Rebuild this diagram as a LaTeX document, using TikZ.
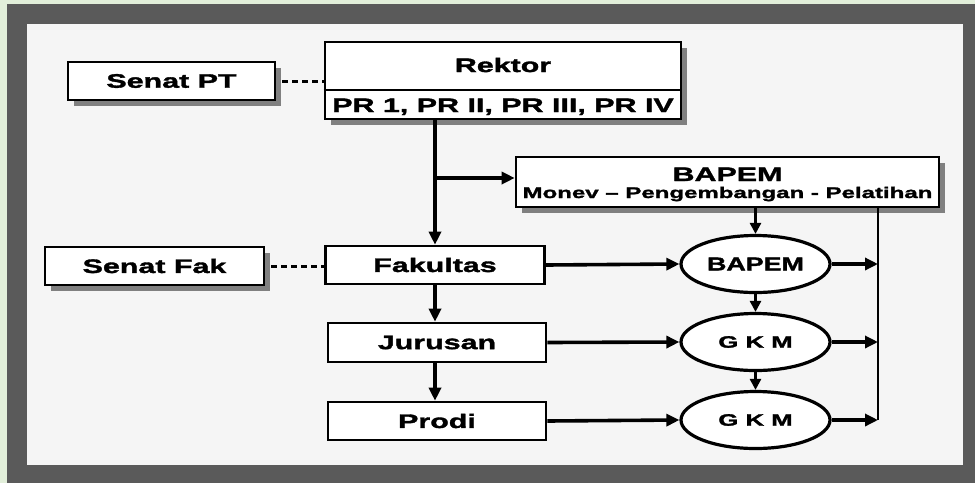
\documentclass[tikz,border=0pt]{standalone}
\usepackage{fontspec}
\setmainfont{Liberation Sans}[FakeStretch=1.56, BoldFeatures={FakeBold=1.8}]
\newfontfamily\ellfont{Liberation Sans}[FakeStretch=1.45, BoldFeatures={FakeBold=1.8}]
\usetikzlibrary{arrows.meta,shapes.geometric,shadows}
\definecolor{bggreen}{HTML}{E2EFDA}
\definecolor{frame}{HTML}{5A5A5A}
\definecolor{paper}{HTML}{F5F5F5}
\begin{document}
\begin{tikzpicture}[x=1pt,y=-1pt,
  box/.style={draw=black, line width=2.6pt, fill=white, inner sep=0pt,
    font=\bfseries\fontsize{19.5}{20}\selectfont},
  shad/.style={drop shadow={shadow xshift=6pt, shadow yshift=-6pt, fill=black!50, opacity=1}},
  lbl/.style={inner sep=0pt, anchor=base, font=\bfseries\fontsize{19.5}{20}\selectfont},
  ell/.style={ellipse, draw=black, line width=3.2pt, fill=white, inner sep=0pt,
    minimum width=149pt, minimum height=57pt},
  arr/.style={line width=3.6pt, -{Triangle[length=13pt,width=12pt]}},
  sarr/.style={line width=2.6pt, -{Triangle[length=11pt,width=11pt]}},
  plain/.style={line width=2.6pt},
  dsh/.style={line width=3pt, dash pattern=on 6pt off 4pt}
]
\useasboundingbox (0,0) rectangle (975,483);
\fill[bggreen] (0,0) rectangle (975,483);
\fill[frame] (7,4) rectangle (975,483);
\fill[paper] (27,24) rectangle (963,465);

% boxes
\node[box, shad, minimum width=207pt, minimum height=38pt] (senatpt) at (171.5,81) {Senat PT};
\node[box, shad, minimum width=356pt, minimum height=77pt] (rektor) at (503,80.5) {};
\draw[line width=2.6pt] (rektor.west |- 0,90) -- (rektor.east |- 0,90);
\node[lbl] (rektorT) at (503,72) {Rektor};
\node[lbl] (prT) at (503,112) {PR 1, PR II, PR III, PR IV};

\node[box, shad, minimum width=423pt, minimum height=50pt] (bapem) at (727.5,182) {};
\node[lbl] (bapemT) at (727.5,181) {BAPEM};
\node[lbl, font=\bfseries\fontsize{15.4}{16}\selectfont] (monevT) at (727.5,198) {Monev -- Pengembangan - Pelatihan};

\node[box, shad, minimum width=219pt, minimum height=38pt] (senatfak) at (154.5,266) {Senat Fak};
\node[box, minimum width=219pt, minimum height=38pt] (fak) at (435,265) {Fakultas};
\node[box, minimum width=218pt, minimum height=39pt] (jur) at (437,342.5) {Jurusan};
\node[box, minimum width=218pt, minimum height=38pt] (prodi) at (437,421) {Prodi};

% ellipses
\node[ell, font=\ellfont\bfseries\fontsize{18.5}{19}\selectfont] (e1) at (755.5,264) {BAPEM};
\node[ell, font=\bfseries\fontsize{16.5}{17}\selectfont] (e2) at (755.5,342) {G K M};
\node[ell, font=\bfseries\fontsize{16.5}{17}\selectfont] (e3) at (755.5,420) {G K M};

% dashed links
\draw[dsh] (senatpt.east) ++(6,0) -- (rektor.west |- senatpt.east);
\draw[dsh] (senatfak.east) ++(6,0) -- (fak.west |- senatfak.east);

% main vertical chain
\draw[arr] (fak.north |- rektor.south) -- (fak.north);
\draw[arr] (fak.north |- 0,178) -- (bapem.west |- 0,178);
\draw[arr] (fak.south) -- (fak.south |- jur.north);
\draw[arr] (fak.south |- jur.south) -- (fak.south |- prodi.north);

% to ellipses
\draw[arr] (fak.east) -- (e1.west);
\draw[arr] (jur.east) -- (e2.west);
\draw[arr] (prodi.east) -- (e3.west);

% vertical through ellipses
\draw[sarr] (bapem.south -| e1.north) -- (e1.north);
\draw[sarr] (e1.south) -- (e2.north);
\draw[sarr] (e2.south) -- (e3.north);

% right collector line
\coordinate (rtop) at (878,207);
\coordinate (rbot) at (878,420);
\draw[plain] (bapem.south -| rtop) -- (rbot);
\draw[arr] (e1.east) -- (e1.east -| rtop);
\draw[arr] (e2.east) -- (e2.east -| rtop);
\draw[arr] (e3.east) -- (e3.east -| rtop);
\end{tikzpicture}
\end{document}
